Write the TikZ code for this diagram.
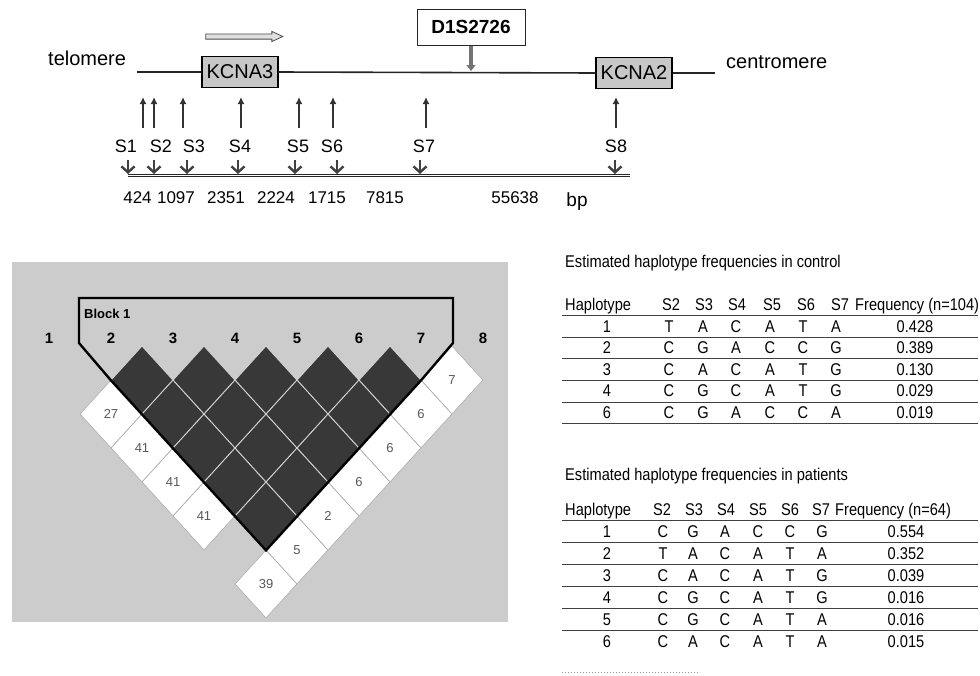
\documentclass[tikz,border=0pt]{standalone}
\usepackage{fontspec}
\setmainfont{Liberation Sans}
\newfontfamily\narrowfont[FakeStretch=0.86]{Liberation Sans}
\usetikzlibrary{arrows.meta, positioning, shapes.geometric, shapes.arrows}

\newcommand{\fsz}[1]{\fontsize{#1}{#1}\selectfont}

\begin{document}
\begin{tikzpicture}[
    x=1pt, y=-1pt,
    % Map Styles
    gene/.style={
        rectangle, draw=black, line width=1.3pt, fill=black!22,
        minimum width=76, minimum height=31, inner sep=0pt, font=\fsz{20}
    },
    marker/.style={
        rectangle, draw=black!85, line width=1pt, fill=white,
        minimum width=108, minimum height=36, font=\bfseries\fsz{19}
    },
    chrom/.style={line width=1.6pt, draw=black!85},
    snpLabel/.style={anchor=base, font=\fsz{18}, inner sep=0pt},
    dist/.style={anchor=base, font=\fsz{17}, inner sep=0pt},
    upArrow/.style={-{Latex[length=7pt, width=7pt]}, line width=2.2pt, draw=black!80},
    snpTick/.style={-{Straight Barb[length=6pt, width=13pt]}, line width=2.4pt, draw=black!75},
    % LD Plot Styles
    ldBack/.style={fill=black!20},
    mkNum/.style={font=\bfseries\fsz{15}, inner sep=0pt},
    darkCell/.style={diamond, draw=white!85!black, line width=0.7pt, fill=black!78,
        minimum width=62, minimum height=68, inner sep=0pt},
    whiteCell/.style={diamond, draw=black!35, line width=0.5pt, fill=white,
        minimum width=62, minimum height=68, inner sep=0pt, font=\fsz{13}, text=black!65},
    blockLine/.style={line width=2.4pt, draw=black, line join=miter},
    % Table Styles
    tabTxt/.style={anchor=base, inner sep=0pt, font=\narrowfont\fsz{17}},
    rule/.style={line width=1pt, draw=black!75}
]
\useasboundingbox (0,0) rectangle (980,675);

% --- GENE MAP ---
\node[gene] (kcna3) at (240,72) {KCNA3};
\node[gene] (kcna2) at (634,73) {KCNA2};
\node[marker] (d1s) at (471,27) {D1S2726};
\coordinate (lineL) at (137,72);
\coordinate (lineR) at (715,73);
\coordinate (d1sHit) at (471,71);
\draw[chrom] (lineL) -- (kcna3.west);
\draw[chrom] (kcna3.east) -- (kcna2.west);
\draw[chrom] (kcna2.east) -- (lineR);

\node[anchor=base west, font=\fsz{20}, inner sep=0pt] (tel) at (48,65) {telomere};
\node[anchor=base west, font=\fsz{20}, inner sep=0pt] (cen) at (726,68) {centromere};

% transcription direction
\node[single arrow, draw=black!70, fill=black!12, line width=0.8pt,
    minimum height=77, inner sep=2.2pt, single arrow head extend=2.5pt,
    single arrow tip angle=50] (dir3) at (241.5,36.5) {};

% microsatellite
\draw[-{Triangle[length=6pt, width=9pt]}, line width=4pt, draw=black!55] (d1s.south) -- (d1sHit);

% SNPs
\foreach \n/\lx/\ax/\tx in {1/126/143/128, 2/161/154/154, 3/194/183/187, 4/240/241/238,
                            5/298/299/295, 6/332/333/337, 7/424/426/420, 8/616/616/615} {
    \node[snpLabel] (s\n) at (\lx,152) {S\n};
    \coordinate (up\n) at (\ax,128);
    \coordinate (upEnd\n) at (\ax,97);
    \draw[upArrow] (up\n) -- (upEnd\n);
    \coordinate (tk\n) at (\tx,160);
    \coordinate (tkEnd\n) at (\tx,174);
    \draw[snpTick] (tk\n) -- (tkEnd\n);
}
\coordinate (axisL) at (128,175.5);
\coordinate (axisR) at (630,175.5);
\draw[double=white, double distance=1.6pt, line width=0.9pt, draw=black!85] (axisL) -- (axisR);

\foreach \d/\x in {424/137.5, 1097/176, 2351/226, 2224/276, 1715/327, 7815/385, 55638/515}
    \node[dist] at (\x,203) {\d};
\node[anchor=base, font=\fsz{19}, inner sep=0pt] (bp) at (577,206) {bp};

% --- LD PLOT ---
\fill[ldBack] (12,262) rectangle (508,622);
\foreach \i in {1,...,8}
    \node[mkNum] (m\i) at ({49+(\i-1)*62},338) {\i};

% Dark Cells (block)
\foreach \i in {2,...,6} {
    \pgfmathtruncatemacro\jstart{\i+1}
    \foreach \j in {\jstart,...,7}
        \node[darkCell] (c\i\j) at ({49+(\i+\j-2)*31},{380+(\j-\i-1)*34}) {};
}
% White Cells
\foreach \i/\j/\v in {1/3/27, 1/4/41, 1/5/41, 1/6/41, 1/8/39,
                      2/8/5, 3/8/2, 4/8/6, 5/8/6, 6/8/6, 7/8/7}
    \node[whiteCell] (c\i\j) at ({49+(\i+\j-2)*31},{380+(\j-\i-1)*34}) {\v};

% Block outline
\draw[blockLine] (79,298) -- (453,298) -- (453,343) -- (c67.east)
    -- (c27.south) -- (c23.west) -- (79,343) -- cycle;
\node[anchor=west, font=\bfseries\fsz{13}, inner sep=0pt] (blk) at (84,314) {Block 1};

% --- CONTROL TABLE ---
\node[tabTxt, anchor=base west] (ctrlT) at (565,267) {Estimated haplotype frequencies in control};
\node[tabTxt, anchor=base west] (ctrlH) at (565,310) {Haplotype};
\foreach \s/\x in {2/671, 3/704, 4/737, 5/772, 6/806, 7/840}
    \node[tabTxt] at (\x,310) {S\s};
\node[tabTxt, anchor=base west] at (855,310) {Frequency (n=104)};
\foreach \y in {315, 337, 358, 380, 402, 423}
    \draw[rule] (562,\y) -- (978,\y);
\foreach \h/\a/\b/\c/\d/\e/\f/\fr [count=\r from 0] in {
        1/T/A/C/A/T/A/0.428, 2/C/G/A/C/C/G/0.389, 3/C/A/C/A/T/G/0.130,
        4/C/G/C/A/T/G/0.029, 6/C/G/A/C/C/A/0.019} {
    \pgfmathsetmacro\yb{332+21.6*\r}
    \node[tabTxt] at (607,\yb) {\h};
    \node[tabTxt] at (669,\yb) {\a};
    \node[tabTxt] at (703,\yb) {\b};
    \node[tabTxt] at (736,\yb) {\c};
    \node[tabTxt] at (770,\yb) {\d};
    \node[tabTxt] at (803,\yb) {\e};
    \node[tabTxt] at (836,\yb) {\f};
    \node[tabTxt] at (915,\yb) {\fr};
}

% --- PATIENT TABLE ---
\node[tabTxt, anchor=base west] (patT) at (565,480) {Estimated haplotype frequencies in patients};
\node[tabTxt, anchor=base west] (patH) at (565,515) {Haplotype};
\foreach \s/\x in {2/662, 3/694, 4/726, 5/758, 6/790, 7/821}
    \node[tabTxt] at (\x,515) {S\s};
\node[tabTxt, anchor=base west] at (835,515) {Frequency (n=64)};
\foreach \y in {520, 542, 564, 586, 608, 630}
    \draw[rule] (562,\y) -- (978,\y);
\draw[rule, dotted, draw=black!40] (562,672) -- (700,672);
\foreach \h/\a/\b/\c/\d/\e/\f/\fr [count=\r from 0] in {
        1/C/G/A/C/C/G/0.554, 2/T/A/C/A/T/A/0.352, 3/C/A/C/A/T/G/0.039,
        4/C/G/C/A/T/G/0.016, 5/C/G/C/A/T/A/0.016, 6/C/A/C/A/T/A/0.015} {
    \pgfmathsetmacro\yb{537+22*\r}
    \node[tabTxt] at (607,\yb) {\h};
    \node[tabTxt] at (663,\yb) {\a};
    \node[tabTxt] at (693,\yb) {\b};
    \node[tabTxt] at (725,\yb) {\c};
    \node[tabTxt] at (758,\yb) {\d};
    \node[tabTxt] at (790,\yb) {\e};
    \node[tabTxt] at (822,\yb) {\f};
    \node[tabTxt] at (906,\yb) {\fr};
}

\end{tikzpicture}
\end{document}
